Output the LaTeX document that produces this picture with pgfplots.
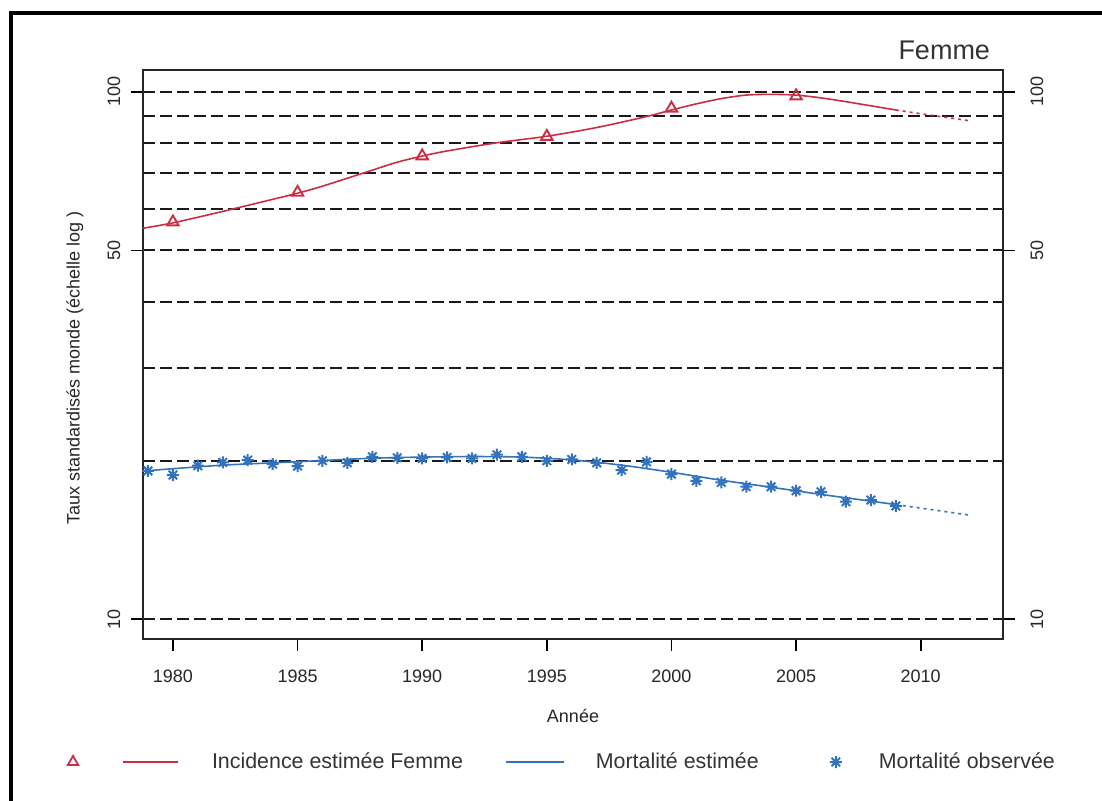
\documentclass[border=0pt]{standalone}
\usepackage{pgfplots}
\pgfplotsset{compat=1.18}
\usepackage{fontspec}
\setmainfont{Liberation Sans}
\definecolor{myred}{RGB}{205,45,65}
\definecolor{myblue}{RGB}{50,115,190}
\pgfdeclareplotmark{ast8}{%
  \pgfpathmoveto{\pgfqpoint{-\pgfplotmarksize}{0pt}}\pgfpathlineto{\pgfqpoint{\pgfplotmarksize}{0pt}}%
  \pgfpathmoveto{\pgfqpoint{0pt}{-\pgfplotmarksize}}\pgfpathlineto{\pgfqpoint{0pt}{\pgfplotmarksize}}%
  \pgfpathmoveto{\pgfqpoint{-.7071\pgfplotmarksize}{-.7071\pgfplotmarksize}}\pgfpathlineto{\pgfqpoint{.7071\pgfplotmarksize}{.7071\pgfplotmarksize}}%
  \pgfpathmoveto{\pgfqpoint{-.7071\pgfplotmarksize}{.7071\pgfplotmarksize}}\pgfpathlineto{\pgfqpoint{.7071\pgfplotmarksize}{-.7071\pgfplotmarksize}}%
  \pgfusepathqstroke}
\begin{document}
\begin{tikzpicture}
\useasboundingbox (-71.5pt,-81pt) rectangle (479.5pt,319.5pt);
\draw[line width=2pt] (-65.85pt,-82pt) -- (-65.85pt,313pt) -- (481pt,313pt);
\begin{axis}[
  scale only axis, width=430pt, height=284.5pt,
  clip mode=individual,
  xmin=1978.8, xmax=2013.3,
  ymode=log, ymin=9.18, ymax=109.9,
  axis line style={line width=0.9pt, black!85},
  xtick={1980,1985,1990,1995,2000,2005,2010},
  xticklabels={1980,1985,1990,1995,2000,2005,2010},
  xtick pos=bottom,
  ytick={10,50,100}, yticklabels={10,50,100},
  ytick pos=left,
  minor ytick={20,30,40,60,70,80,90},
  tick align=outside, major tick length=6pt, minor tick length=0pt,
  tick style={line width=0.9pt, black},
  ymajorgrids, yminorgrids,
  major grid style={black!90, line width=1pt, dash pattern=on 6pt off 2.5pt},
  minor grid style={black!90, line width=1pt, dash pattern=on 6pt off 2.5pt},
  ticklabel style={font=\fontsize{9}{10}\selectfont, text=black!85},
  yticklabel style={rotate=90, anchor=center, yshift=8.5pt},
  xticklabel style={anchor=center, yshift=-12.5pt},
  xlabel={Année}, ylabel={Taux standardisés monde (échelle log )},
  label style={font=\fontsize{9}{10}\selectfont, text=black!85},
  xlabel style={at={(axis description cs:0.5,-0.1353)}, anchor=center},
  ylabel style={at={(axis description cs:-0.0791,0.4763)}, anchor=center},
  legend columns=3,
  legend style={at={(axis description cs:-0.0965,-0.2162)}, anchor=west,
    draw=none, fill=none, inner sep=0pt, outer sep=0pt,
    nodes={inner sep=0pt, outer sep=0pt, text=black!80},
    /tikz/column sep=0pt,
    font=\fontsize{10.7}{12}\selectfont},
]
% Incidence estimee (solid)
\addplot[myred, line width=0.8pt, smooth,
  legend image code/.code={
    \path[draw=none, fill=none] (0pt,-5pt) rectangle (76pt,5pt);
    \draw[myred, line width=0.8pt] (31.5pt,0pt) -- (59pt,0pt);
    \draw[myred, line width=0.9pt, mark=triangle, mark size=3pt] plot coordinates {(6.5pt,0pt)};
  }] coordinates {
(1978.8,55.1) (1980,56.4) (1982,59.3) (1984,62.5) (1985,64.2) (1986,66.2)
(1988,71.0) (1989,73.5) (1990,75.5) (1991,77.2) (1993,80.0) (1995,82.3)
(1997,85.5) (1999,89.7) (2000,92.3) (2001,94.8) (2002,97.0) (2003,98.5)
(2004,98.8) (2005,98.5) (2006,97.3) (2007,95.7) (2008,94.0) (2009,92.3)
};
\addlegendentry{\makebox[146.5pt][l]{Incidence estimée Femme}}
% Incidence projection (dotted)
\addplot[myred, line width=0.8pt, smooth, dash pattern=on 1.5pt off 2pt, forget plot] coordinates {
(2009,92.3) (2010,90.8) (2011,89.4) (2012,88.0)
};
% Incidence markers
\addplot[myred, only marks, mark=triangle, mark size=3.3pt, mark options={line width=0.95pt}, forget plot] coordinates {
(1980,56.6) (1985,64.4) (1990,75.5) (1995,82.2) (2000,93.0) (2005,98.1)
};
% Mortalite estimee (solid)
\addplot[myblue, line width=0.8pt, smooth,
  legend image code/.code={
    \path[draw=none, fill=none] (0pt,-5pt) rectangle (45pt,5pt);
    \draw[myblue, line width=0.8pt] (0pt,0pt) -- (29pt,0pt);
  }] coordinates {
(1978.8,19.1) (1980,19.3) (1982,19.6) (1984,19.8) (1986,20.0) (1988,20.2)
(1990,20.3) (1992,20.35) (1994,20.3) (1996,20.05) (1998,19.6) (2000,19.0)
(2002,18.35) (2004,17.8) (2006,17.25) (2008,16.75) (2009,16.5)
};
\addlegendentry{\makebox[117pt][l]{Mortalité estimée}}
% Mortalite projection (dotted)
\addplot[myblue, line width=0.8pt, smooth, dash pattern=on 1.5pt off 2pt, forget plot] coordinates {
(2009,16.5) (2010,16.25) (2011,16.0) (2012,15.75)
};
% Mortalite observee
\addplot[myblue, only marks, mark=ast8, mark size=3pt, mark options={line width=1pt},
  legend image code/.code={
    \path[draw=none, fill=none] (0pt,-5pt) rectangle (24.5pt,5pt);
    \draw[myblue, line width=1pt, mark=ast8, mark size=3pt] plot coordinates {(3pt,0pt)};
  }] coordinates {
(1979,19.12) (1980,18.77) (1981,19.55) (1982,19.84) (1983,20.04) (1984,19.69)
(1985,19.52) (1986,19.98) (1987,19.80) (1988,20.33) (1989,20.24) (1990,20.18)
(1991,20.27) (1992,20.18) (1993,20.51) (1994,20.33) (1995,19.98) (1996,20.09)
(1997,19.80) (1998,19.18) (1999,19.89) (2000,18.85) (2001,18.31) (2002,18.18)
(2003,17.84) (2004,17.84) (2005,17.53) (2006,17.45) (2007,16.71) (2008,16.83)
(2009,16.40)
};
\addlegendentry{Mortalité observée}
\node[anchor=base east, font=\fontsize{13.5}{15}\selectfont, text=black!80] at (axis description cs:0.9931,1.0176) {Femme};
\end{axis}
\begin{axis}[
  scale only axis, width=430pt, height=284.5pt,
  xmin=1978.8, xmax=2013.3,
  ymode=log, ymin=9.18, ymax=109.9,
  axis x line=none, axis y line*=right,
  axis line style={line width=0.9pt, black!85},
  ytick={10,50,100}, yticklabels={10,50,100},
  tick align=outside, major tick length=6pt, minor ytick={}, minor tick length=0pt,
  tick style={line width=0.9pt, black},
  ticklabel style={font=\fontsize{9}{10}\selectfont, text=black!85},
  yticklabel style={rotate=90, anchor=center, yshift=-11pt},
]
\end{axis}
\end{tikzpicture}
\end{document}
